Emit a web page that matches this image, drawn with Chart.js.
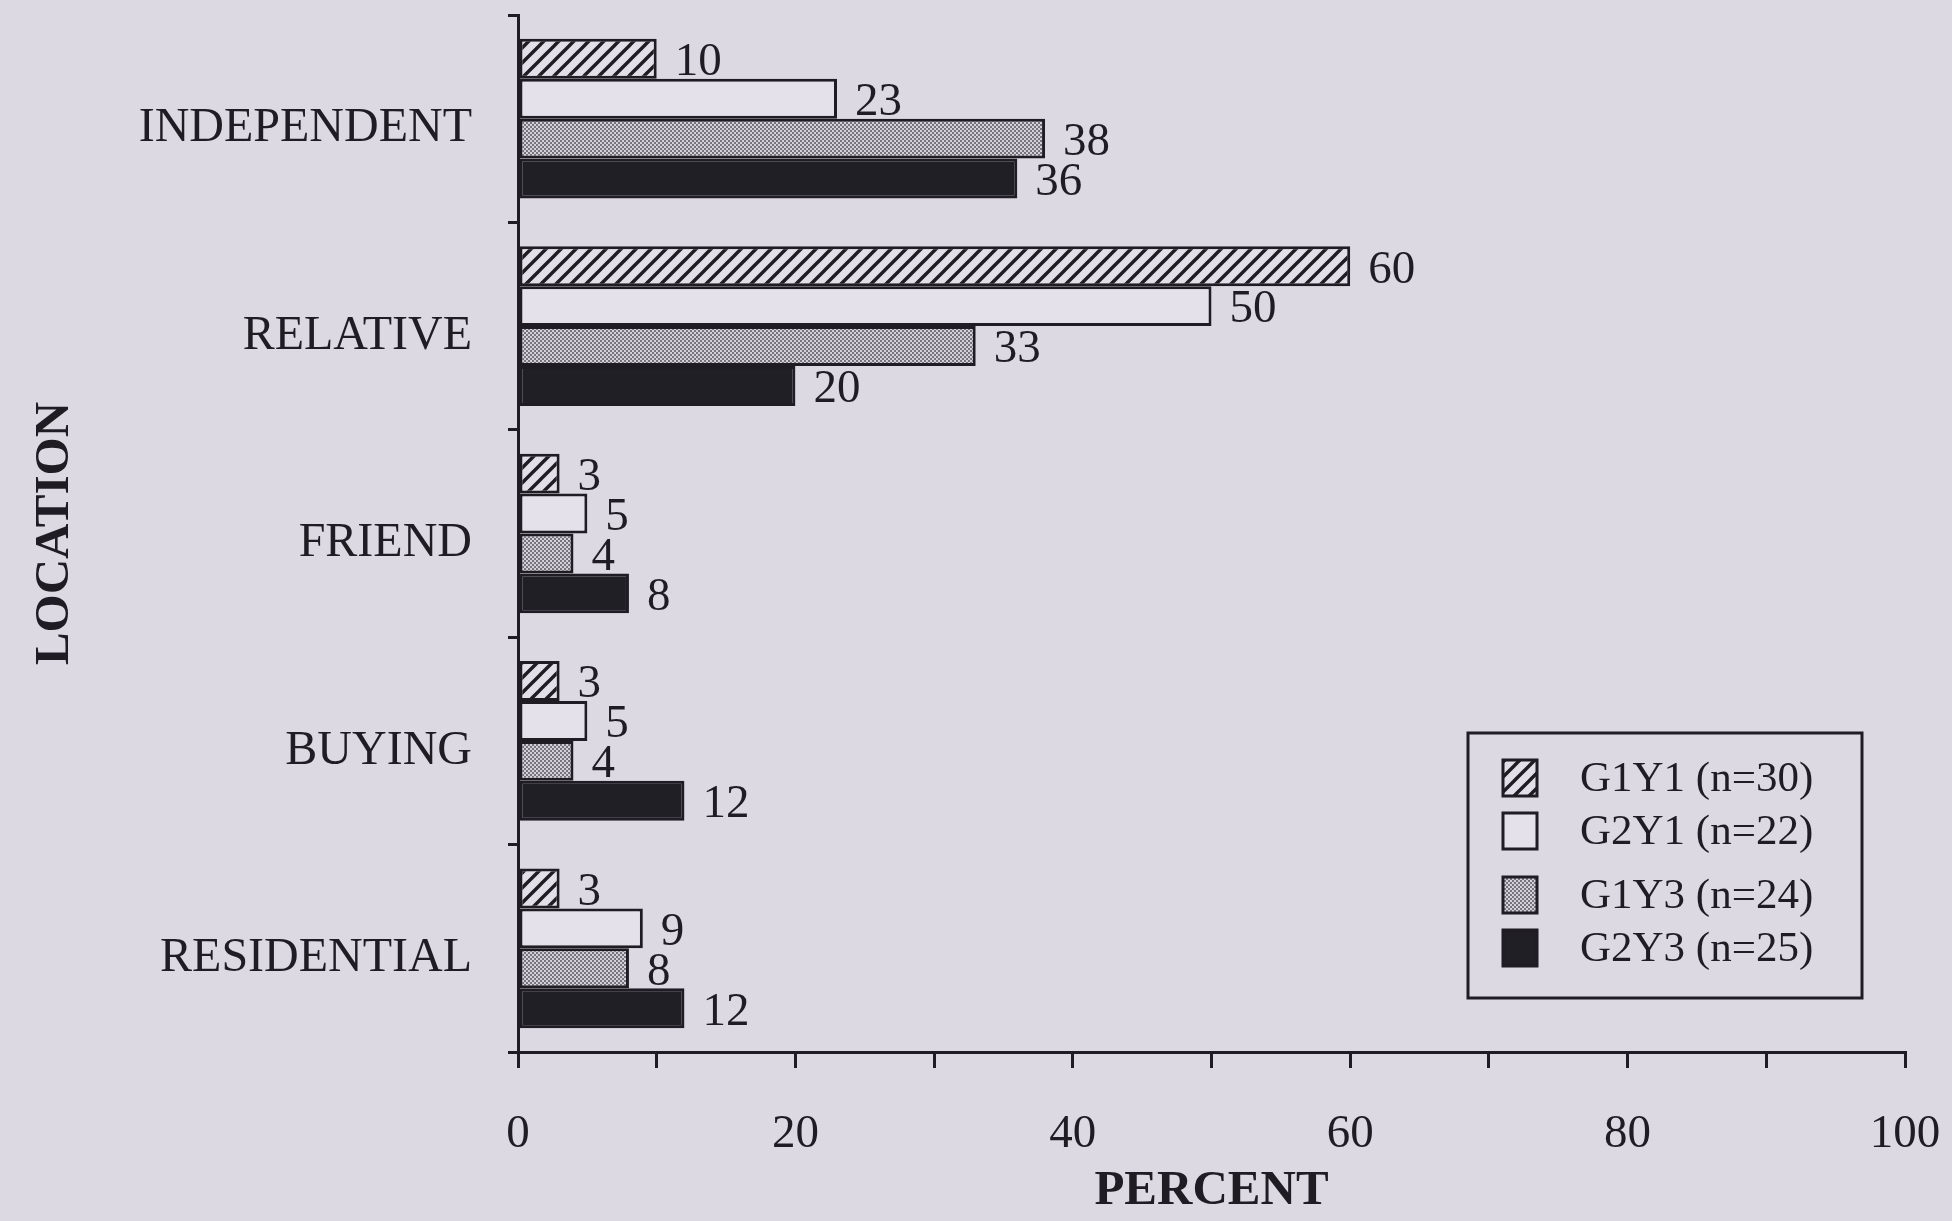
<!DOCTYPE html>
<html><head><meta charset="utf-8">
<script src="https://cdn.jsdelivr.net/npm/chart.js@4/dist/chart.umd.min.js"></script>
<style>html,body{margin:0;padding:0;background:#dcd9e3;overflow:hidden}</style>
</head><body>
<canvas id="c" width="1952" height="1221"></canvas>
<script>
const categories = ['INDEPENDENT', 'RELATIVE', 'FRIEND', 'BUYING', 'RESIDENTIAL'];
const seriesLabels = ['G1Y1 (n=30)', 'G2Y1 (n=22)', 'G1Y3 (n=24)', 'G2Y3 (n=25)'];
const g1y1 = [10, 60, 3, 3, 3];
const g2y1 = [23, 50, 5, 5, 9];
const g1y3 = [38, 33, 4, 4, 8];
const g2y3 = [36, 20, 8, 12, 12];
const xTickLabels = [0, 20, 40, 60, 80, 100];

const BG = '#dcd9e3';
const INK = '#1f1d23';
const SERIF = '"Liberation Serif", "Times New Roman", serif';

function hatchPattern() {
  const s = 15, c = document.createElement('canvas');
  c.width = s; c.height = s;
  const g = c.getContext('2d');
  g.fillStyle = '#e2dfe8'; g.fillRect(0, 0, s, s);
  g.strokeStyle = INK; g.lineWidth = 3.4;
  g.beginPath();
  g.moveTo(-2, s + 2); g.lineTo(s + 2, -2);
  g.moveTo(-s / 2 - 2, s / 2 + 2); g.lineTo(s / 2 + 2, -s / 2 - 2);
  g.moveTo(s / 2 - 2, s * 1.5 + 2); g.lineTo(s * 1.5 + 2, s / 2 - 2);
  g.stroke();
  return g.createPattern(c, 'repeat');
}
function stipplePattern() {
  const c = document.createElement('canvas');
  c.width = 4; c.height = 4;
  const g = c.getContext('2d');
  g.fillStyle = '#d3d0d9'; g.fillRect(0, 0, 4, 4);
  g.fillStyle = '#77747c';
  g.fillRect(0, 0, 2, 2); g.fillRect(2, 2, 2, 2);
  return g.createPattern(c, 'repeat');
}
const fills = [hatchPattern(), '#e4e1ea', stipplePattern(), '#211f26'];
const seriesData = [g1y1, g2y1, g1y3, g2y3];

const bgPlugin = {
  id: 'bg',
  beforeDraw(chart) {
    const ctx = chart.ctx;
    ctx.save(); ctx.fillStyle = BG; ctx.fillRect(0, 0, chart.width, chart.height); ctx.restore();
  }
};

const valueLabels = {
  id: 'valueLabels',
  afterDatasetsDraw(chart) {
    const ctx = chart.ctx;
    ctx.save();
    ctx.fillStyle = INK;
    ctx.font = '47px ' + SERIF;
    ctx.textAlign = 'left';
    ctx.textBaseline = 'middle';
    chart.data.datasets.forEach((ds, i) => {
      chart.getDatasetMeta(i).data.forEach((el, j) => {
        ctx.fillText(String(ds.data[j]), el.x + 18, el.y + 4);
      });
    });
    ctx.restore();
  }
};

const boxLegend = {
  id: 'boxLegend',
  afterDraw(chart) {
    const ctx = chart.ctx;
    ctx.save();
    ctx.strokeStyle = INK; ctx.lineWidth = 3;
    ctx.strokeRect(1468, 733, 394, 265);
    const rows = [778, 831, 895, 948];
    ctx.font = '43px ' + SERIF;
    ctx.textBaseline = 'middle';
    chart.data.datasets.forEach((ds, i) => {
      const y = rows[i];
      ctx.fillStyle = ds.backgroundColor;
      ctx.fillRect(1503, y - 18, 34, 36);
      ctx.lineWidth = 3; ctx.strokeStyle = INK;
      ctx.strokeRect(1503, y - 18, 34, 36);
      ctx.fillStyle = INK;
      ctx.fillText(ds.label, 1580, y + 2);
    });
    ctx.restore();
  }
};

new Chart(document.getElementById('c'), {
  type: 'bar',
  data: {
    labels: categories,
    datasets: seriesLabels.map((lab, i) => ({
      label: lab,
      data: seriesData[i],
      backgroundColor: fills[i],
      borderColor: INK,
      borderWidth: 3,
      borderSkipped: false,
      categoryPercentage: 0.77,
      barPercentage: 1.0
    }))
  },
  options: {
    indexAxis: 'y',
    responsive: false,
    animation: false,
    layout: { padding: { top: 15, right: 47, bottom: 0, left: 0 } },
    plugins: { legend: { display: false }, tooltip: { enabled: false } },
    scales: {
      x: {
        min: 0, max: 100,
        ticks: {
          stepSize: 10, autoSkip: false, maxRotation: 0, padding: 38,
          color: INK, font: { family: SERIF, size: 47 },
          callback: (v) => xTickLabels.includes(v) ? String(v) : ''
        },
        grid: { drawOnChartArea: false, drawTicks: true, tickLength: 16, color: INK, lineWidth: 3 },
        border: { display: true, color: INK, width: 3 },
        title: { display: true, text: 'PERCENT', color: INK,
          font: { family: SERIF, size: 49, weight: 'bold' }, padding: { top: 0, bottom: 0 } },
        afterFit: (s) => { s.height = 169; s.paddingLeft = 0; s.paddingRight = 0; }
      },
      y: {
        ticks: { color: INK, font: { family: SERIF, size: 48 }, padding: 36, labelOffset: 10 },
        grid: { offset: true, drawOnChartArea: false, drawTicks: true, tickLength: 10, color: INK, lineWidth: 3 },
        border: { display: true, color: INK, width: 3 },
        title: { display: true, text: 'LOCATION', color: INK,
          font: { family: SERIF, size: 49, weight: 'bold' }, padding: { top: 26, bottom: 0 } },
        afterFit: (s) => { s.width = 518; s.paddingTop = 0; s.paddingBottom = 0; }
      }
    }
  },
  plugins: [bgPlugin, valueLabels, boxLegend]
});
</script>
</body></html>
